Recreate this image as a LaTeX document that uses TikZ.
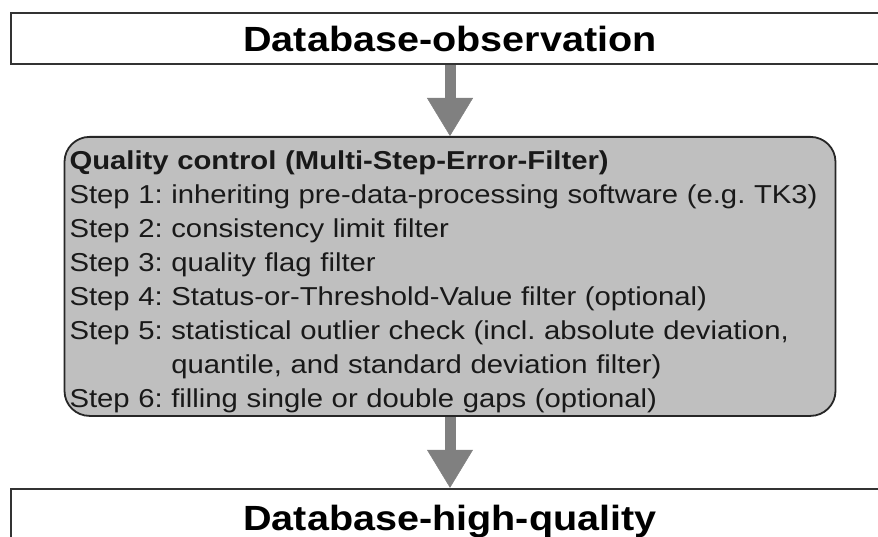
\documentclass[tikz,border=0pt]{standalone}
\usepackage{fontspec}
\setmainfont{Liberation Sans}[FakeStretch=1.13]
\usetikzlibrary{arrows.meta,positioning}

\begin{document}
\begin{tikzpicture}[x=1pt,y=-1pt,node distance=71pt,
	db/.style={draw=black!80,line width=2pt,minimum width=878pt,inner sep=0pt,font=\bfseries\fontsize{35}{40}\selectfont},
	qcbox/.style={draw=black!85,line width=1.8pt,fill=black!25,rounded corners=25pt,inner xsep=5pt,inner ysep=0pt,
		minimum height=279pt,text width=761pt,align=left,text=black!90,font=\frenchspacing\fontsize{25.9}{34}\selectfont},
	flow/.style={color=black!50,line width=11pt,-{Triangle[width=46pt,length=38pt,line width=0.5pt]}}]
		\path[use as bounding box,clip] (0,0) rectangle (878,537);

		\node[db,minimum height=51pt] (obs) at (450,38.5) {Database-observation};
		\node[qcbox] (qc) [below=of obs] {%
			\begin{tabular}{@{}l@{ }l@{}}
				\multicolumn{2}{@{}l@{}}{\bfseries Quality control (Multi-Step-Error-Filter)}\\
				Step 1: & inheriting pre-data-processing software (e.g. TK3)\\
				Step 2: & consistency limit filter\\
				Step 3: & quality flag filter\\
				Step 4: & Status-or-Threshold-Value filter (optional)\\
				Step 5: & statistical outlier check (incl. absolute deviation,\\
				        & quantile, and standard deviation filter)\\
				Step 6: & filling single or double gaps (optional)\\[-10pt]
			\end{tabular}};
		\node[db,minimum height=65pt] (hq) [below=of qc] {Database-high-quality};

		\path[flow]
		(obs) edge (qc)
		(qc) edge (hq)
		;
	\end{tikzpicture}
\end{document}
